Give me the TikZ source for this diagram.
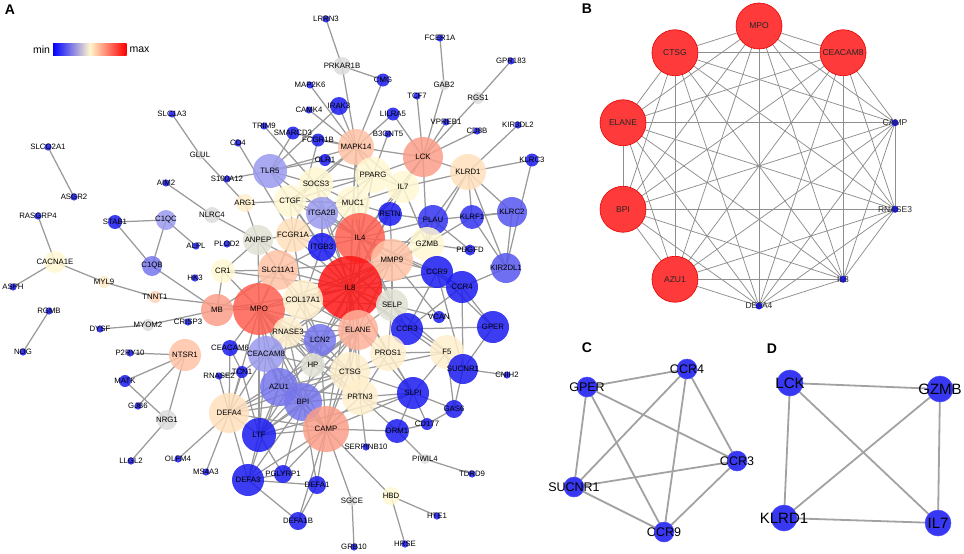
\documentclass[tikz,border=0pt]{standalone}
\usepackage{fontspec}
\setmainfont{Liberation Sans}
\usetikzlibrary{backgrounds}
\definecolor{bl}{HTML}{1A1AF0}
\definecolor{bltwo}{HTML}{3434F0}
\definecolor{lvA}{HTML}{5656EE}
\definecolor{lvB}{HTML}{7676EC}
\definecolor{lvC}{HTML}{9A9AEE}
\definecolor{grA}{HTML}{DCDCDC}
\definecolor{grB}{HTML}{E0E0D4}
\definecolor{yA}{HTML}{FFF8D2}
\definecolor{yB}{HTML}{FFEFCC}
\definecolor{oA}{HTML}{FFE0BC}
\definecolor{oM}{HTML}{FFEACA}
\definecolor{oT}{HTML}{FDD4B6}
\definecolor{oB}{HTML}{FFC2A6}
\definecolor{oE}{HTML}{FFB29A}
\definecolor{sA}{HTML}{FA9E88}
\definecolor{rA}{HTML}{FF5E50}
\definecolor{rB}{HTML}{FF1616}
\definecolor{edgeA}{HTML}{9A9A9A}
\definecolor{edgeB}{HTML}{8E8E8E}
\definecolor{edgeC}{HTML}{A2A2A2}
\definecolor{redB}{HTML}{FF3A3A}
\definecolor{blueC}{HTML}{3838F2}
\definecolor{cMid}{HTML}{FFF6CC}
\tikzset{
  gnode/.style={circle,inner sep=0pt,outer sep=0pt,fill opacity=0.85,draw=none},
  lblA/.style={font=\fontsize{7.8}{8}\selectfont,text=black,inner sep=0pt,text opacity=1,fill opacity=1},
  lblB/.style={font=\fontsize{8.5}{9}\selectfont,text=black!85,inner sep=0pt},
  lblC/.style={font=\fontsize{12.5}{13}\selectfont,text=black,inner sep=0pt},
  lblD/.style={font=\fontsize{15}{16}\selectfont,text=black,inner sep=0pt},
  lnA/.style={draw=edgeA,line width=1.25pt},
  lnB/.style={draw=edgeB,line width=0.75pt},
  lnC/.style={draw=edgeC,line width=1.8pt},
  bred/.style={circle,inner sep=0pt,minimum size=46pt,fill=redB,draw=red!90!black,line width=0.6pt},
  bsmall/.style={circle,inner sep=0pt,minimum size=7pt,fill=bl},
  cnode/.style={circle,inner sep=0pt,minimum size=20pt,fill=blueC,draw=blue!70,line width=0.5pt},
  dnode/.style={circle,inner sep=0pt,minimum size=26pt,fill=blueC,draw=blue!70,line width=0.5pt},
  plabel/.style={font=\bfseries\fontsize{14}{14}\selectfont,inner sep=0pt},
  leg/.style={font=\fontsize{10.5}{11}\selectfont,inner sep=0pt}
}
\newcommand\gn[5]{\node[gnode,minimum size={2*#4},fill=#5,label={[lblA]center:#1}] (#1) at (#2,#3) {};}
\newcommand\sn[3]{\gn{#1}{#2}{#3}{3.6}{bl}}
\begin{document}
\begin{tikzpicture}[x=1pt,y=-1pt]
\useasboundingbox (0,0) rectangle (964,554);
% panel labels
\node[plabel] (labA) at (10,10) {A};
\node[plabel] (labB) at (587,9) {B};
\node[plabel] (labC) at (587,348) {C};
\node[plabel] (labD) at (772,349) {D};
% legend
\shade[left color=blue,right color=red,middle color=cMid] (53,43) rectangle (126.5,55);
\node[leg] (legmin) at (41.5,50) {min};
\node[leg] (legmax) at (139.5,50) {max};
% ---------------- panel A nodes ----------------
\sn{LRRN3}{326}{19}
\gn{PRKAR1B}{342}{66}{9}{grA}
\sn{MAP2K6}{310}{85}
\gn{IRAK3}{339}{106}{9}{bl}
\sn{CAMK4}{309}{110}
\sn{TRIM9}{264}{126}
\gn{SMARCD3}{293}{133}{6.5}{bl}
\gn{FCGR1B}{318}{140}{6.5}{bl}
\gn{MAPK14}{356}{147}{18}{oB}
\gn{OLR1}{325}{160}{6}{bl}
\sn{CD4}{238}{143}
\gn{GLUL}{200}{155}{4.5}{grA}
\sn{SLC1A3}{172}{114}
\sn{SLCO2A1}{48}{147}
\sn{ASGR2}{74}{197}
\sn{RASGRP4}{38}{216}
\gn{CACNA1E}{55}{262}{11}{yA}
\sn{ASPH}{13}{287}
\gn{MYL9}{104}{282}{6}{oM}
\gn{TNNT1}{155}{297}{6}{oT}
\sn{RGMB}{49}{311}
\sn{NOG}{23}{352}
\sn{AIM2}{166}{183}
\gn{STAB1}{115}{222}{7}{bl}
\gn{C1QC}{166}{220}{10}{lvC}
\gn{C1QB}{152}{266}{10}{lvB}
\sn{ALPL}{196}{246}
\sn{PLOD2}{227}{244}
\sn{HK3}{195}{278}
\sn{DYSF}{100}{329}
\gn{MYOM2}{148}{325}{6}{grA}
\sn{CRISP3}{188}{322}
\sn{P2RY10}{130}{353}
\gn{NTSR1}{185}{355}{16}{oB}
\gn{MATK}{125}{381}{6}{bl}
\sn{GJB6}{138}{406}
\gn{NRG1}{167}{420}{10}{grA}
\sn{LLGL2}{131}{461}
\sn{OLFM4}{178}{459}
\sn{MS4A3}{206}{472}
\sn{FCER1A}{440}{38}
\sn{GPR183}{511}{61}
\gn{GAB2}{444}{85}{5.5}{grA}
\gn{CMG}{383}{80}{6.5}{bl}
\gn{RGS1}{478}{98}{6}{grA}
\sn{TCF7}{417}{96}
\gn{LILRA5}{393}{114}{6.5}{bl}
\sn{VPREB1}{446}{122}
\sn{KIR3DL2}{518}{125}
\sn{CD8B}{477}{131}
\sn{B3GNT5}{388}{134}
\gn{LCK}{423}{157}{20}{sA}
\gn{KLRD1}{468}{172}{18}{oA}
\gn{KLRC3}{532}{160}{6.5}{bl}
\gn{TLR5}{270}{171}{17}{lvC}
\sn{S100A12}{227}{179}
\gn{NLRC4}{212}{215}{8}{grA}
\gn{ARG1}{245}{203}{9}{yB}
\gn{CTGF}{290}{201}{16}{yA}
\gn{SOCS3}{316}{184}{17}{yA}
\gn{MUC1}{353}{203}{17}{yA}
\gn{PPARG}{373}{175}{18}{yA}
\gn{IL7}{403}{187}{16}{yA}
\gn{ITGA2B}{322}{213}{16}{lvC}
\gn{ANPEP}{258}{240}{15}{grB}
\gn{FCGR1A}{293}{235}{17}{oA}
\gn{ITGB3}{322}{247}{14}{bl}
\gn{IL4}{360}{238}{25}{rA}
\gn{RETN}{390}{214}{12}{bl}
\gn{PLAU}{433}{220}{15}{bltwo}
\gn{KLRF1}{472}{217}{12}{bltwo}
\gn{KLRC2}{512}{212}{15}{lvA}
\gn{GZMB}{427}{244}{17}{yA}
\gn{PDGFD}{470}{250}{5.5}{bl}
\gn{MMP9}{392}{260}{21}{oB}
\gn{KIR2DL1}{506}{268}{15}{lvA}
\gn{CCR9}{437}{272}{16}{bl}
\gn{CCR4}{462}{287}{16}{bl}
\gn{CR1}{223}{271}{12}{yA}
\gn{SLC11A1}{278}{270}{20}{oB}
\gn{IL8}{350}{288}{32}{rB}
\gn{MB}{217}{310}{16}{sA}
\gn{MPO}{259}{309}{26}{rA}
\gn{COL17A1}{303}{300}{20}{yB}
\gn{SELP}{392}{305}{16}{grB}
\gn{VCAN}{439}{317}{6}{bl}
\gn{GPER}{493}{327}{16}{bl}
\gn{CCR3}{407}{329}{16}{bl}
\gn{ELANE}{358}{330}{20}{oE}
\gn{RNASE3}{288}{332}{15}{yB}
\gn{LCN2}{320}{340}{16}{lvB}
\gn{F5}{447}{352}{17}{yB}
\gn{PROS1}{388}{353}{18}{yB}
\gn{SUCNR1}{463}{369}{15}{bl}
\sn{CNIH2}{507}{375}
\gn{CEACAM6}{230}{348}{8}{bl}
\gn{CEACAM8}{266}{354}{18}{lvC}
\gn{HP}{313}{365}{12}{grB}
\gn{CTSG}{350}{372}{20}{yB}
\gn{TCN1}{242}{372}{6}{bl}
\sn{RNASE2}{219}{376}
\gn{AZU1}{279}{387}{19}{lvB}
\gn{BPI}{303}{402}{19}{lvB}
\gn{PRTN3}{360}{397}{18}{yB}
\gn{SLPI}{413}{393}{16}{bl}
\gn{GAS6}{454}{409}{9}{bl}
\gn{CD177}{427}{424}{6}{bl}
\gn{ORM1}{397}{431}{12}{bl}
\gn{DEFA4}{229}{413}{20}{oA}
\gn{LTF}{259}{435}{17}{bl}
\gn{CAMP}{326}{429}{23}{sA}
\sn{SERPINB10}{366}{447}
\gn{PIWIL4}{425}{459}{5}{grA}
\sn{TDRD9}{472}{474}
\gn{DEFA3}{248}{480}{16}{bl}
\gn{PGLYRP1}{283}{474}{9}{bl}
\gn{DEFA1}{317}{485}{9}{bl}
\gn{DEFA1B}{298}{521}{9}{bl}
\gn{SGCE}{352}{501}{5}{grA}
\sn{GRB10}{354}{547}
\gn{HBD}{391}{496}{9}{yA}
\sn{HTE1}{437}{516}
\sn{HRSE}{405}{544}
% ---------------- panel B nodes ----------------
\foreach \n/\a in {MPO/90,CEACAM8/54,AZU1/-126,BPI/-162,ELANE/162,CTSG/126}
  \node[bred,label={[lblB]center:\n}] (B\n) at ({759+143*cos(\a)},{166-140*sin(\a)}) {};
\foreach \n/\a in {CAMP/18,RNASE3/-18,IL8/-54,DEFA4/-90}
  \node[bsmall,label={[lblB]center:\n}] (B\n) at ({759+143*cos(\a)},{166-140*sin(\a)}) {};
% ---------------- panel C nodes ----------------
\node[cnode,label={[lblC]center:GPER}] (CGPER) at (587,387) {};
\node[cnode,label={[lblC]center:CCR4}] (CCCR4) at (687,369) {};
\node[cnode,label={[lblC]center:CCR3}] (CCCR3) at (737,461) {};
\node[cnode,label={[lblC]center:SUCNR1}] (CSUCNR1) at (574,487) {};
\node[cnode,label={[lblC]center:CCR9}] (CCCR9) at (664,532) {};
% ---------------- panel D nodes ----------------
\node[dnode,label={[lblD]center:LCK}] (DLCK) at (790,383) {};
\node[dnode,label={[lblD]center:GZMB}] (DGZMB) at (940,389) {};
\node[dnode,label={[lblD]center:KLRD1}] (DKLRD1) at (784,518) {};
\node[dnode,label={[lblD]center:IL7}] (DIL7) at (938,523) {};
% ---------------- edges ----------------
\begin{scope}[on background layer]
\foreach \a/\bs in {
 LRRN3/{PRKAR1B}, PRKAR1B/{CMG,MAPK14}, CMG/{MAPK14}, MAP2K6/{MAPK14}, IRAK3/{MAPK14,TLR5},
 CAMK4/{MAPK14}, TRIM9/{SOCS3}, SMARCD3/{MAPK14,TLR5}, FCGR1B/{MAPK14,FCGR1A}, OLR1/{PPARG,TLR5},
 CD4/{FCGR1A}, SLC1A3/{GLUL}, GLUL/{ARG1}, S100A12/{TLR5}, AIM2/{NLRC4}, NLRC4/{ANPEP},
 FCER1A/{GAB2}, GAB2/{LCK}, GPR183/{RGS1}, RGS1/{LCK}, TCF7/{LCK}, VPREB1/{LCK}, CD8B/{LCK},
 KIR3DL2/{KLRD1}, KLRC3/{KLRD1,KIR2DL1}, LILRA5/{LCK,MAPK14}, B3GNT5/{PPARG},
 LCK/{KLRD1,IL7,MAPK14,PPARG,IL4,GZMB},
 KLRD1/{IL7,KLRF1,KLRC2,GZMB,PLAU,KIR2DL1},
 ASGR2/{SLCO2A1}, RASGRP4/{CACNA1E}, ASPH/{CACNA1E}, CACNA1E/{MYL9}, MYL9/{TNNT1}, TNNT1/{MPO},
 RGMB/{NOG}, DYSF/{MYOM2}, MYOM2/{MB}, STAB1/{C1QC,C1QB}, C1QC/{C1QB,ALPL}, C1QB/{MB},
 P2RY10/{NTSR1}, NTSR1/{MATK,NRG1,GJB6}, MATK/{NRG1}, NRG1/{LLGL2}, OLFM4/{DEFA4}, MS4A3/{DEFA4},
 HBD/{HTE1,HRSE,CAMP}, SGCE/{GRB10,CAMP}, SERPINB10/{PRTN3}, ORM1/{PIWIL4,CD177}, PIWIL4/{TDRD9},
 SUCNR1/{CNIH2,CCR3,CCR4,CCR9,GPER},
 IL8/{IL4,MPO,ELANE,MMP9,SELP,COL17A1,SLC11A1,FCGR1A,ITGB3,ITGA2B,SOCS3,MUC1,PPARG,IL7,CTGF,CCR3,CCR4,CCR9,GZMB,PLAU,RETN,CAMP,LCN2,CTSG,PRTN3,HP,ANPEP,CR1,MB,F5,PROS1,CEACAM8,TLR5,MAPK14,RNASE3,SLPI},
 IL4/{SOCS3,MUC1,PPARG,IL7,CTGF,FCGR1A,ITGB3,ITGA2B,MMP9,RETN,GZMB,CCR4,CCR3,CCR9,SELP,MAPK14,TLR5,ELANE,PLAU},
 MPO/{ELANE,CTSG,AZU1,BPI,CEACAM8,CAMP,RNASE3,LTF,LCN2,PRTN3,HP,SLC11A1,COL17A1,MB,CR1,ANPEP,DEFA4,CEACAM6,MMP9,FCGR1A},
 ELANE/{CTSG,AZU1,BPI,CEACAM8,CAMP,PRTN3,LTF,LCN2,SLPI,SELP,MMP9,RNASE3,DEFA4,COL17A1,HP,PROS1},
 CTSG/{AZU1,BPI,PRTN3,CAMP,CEACAM8,RNASE3,SLPI,LTF,LCN2,F5,PROS1,DEFA4,HP},
 AZU1/{BPI,PRTN3,CAMP,CEACAM8,RNASE3,DEFA4,LTF,LCN2,DEFA3},
 BPI/{CAMP,CEACAM8,RNASE3,DEFA4,LTF,LCN2,PRTN3,DEFA3,PGLYRP1,DEFA1},
 CAMP/{LTF,DEFA4,DEFA3,DEFA1,DEFA1B,PGLYRP1,PRTN3,CEACAM8,SLPI,LCN2,ORM1},
 CEACAM8/{CEACAM6,LTF,LCN2,DEFA4,RNASE3,TCN1},
 LTF/{DEFA4,DEFA3,LCN2,PGLYRP1,TCN1,SLPI},
 DEFA4/{DEFA3,RNASE2,TCN1,CEACAM6}, DEFA3/{DEFA1,DEFA1B,PGLYRP1}, DEFA1/{DEFA1B},
 PRTN3/{SLPI,ORM1,PROS1,HP,CD177}, SLPI/{ORM1,CD177,PROS1,F5,GAS6},
 GAS6/{SUCNR1,F5,CD177}, F5/{PROS1,SELP},
 CCR3/{CCR9,CCR4,GPER,SELP}, CCR4/{CCR9,GPER,KIR2DL1}, CCR9/{GPER,MMP9},
 VCAN/{SELP,MMP9}, SELP/{MMP9,PROS1,COL17A1,ITGB3},
 MMP9/{GZMB,PLAU,RETN,SLC11A1,COL17A1,LCN2},
 GZMB/{PLAU,IL7,PDGFD,KLRF1}, PLAU/{KLRC2,RETN,PDGFD}, KLRF1/{KLRC2,KIR2DL1}, KLRC2/{KIR2DL1},
 MAPK14/{PPARG,SOCS3,MUC1,IL7,TLR5,CTGF}, PPARG/{SOCS3,MUC1,IL7,CTGF,ITGA2B},
 SOCS3/{CTGF,MUC1,TLR5,ITGA2B}, MUC1/{IL7,CTGF,ITGA2B,ITGB3,RETN},
 CTGF/{ARG1,ITGA2B,FCGR1A,ITGB3}, ITGA2B/{ITGB3,FCGR1A}, ITGB3/{FCGR1A,SLC11A1,COL17A1},
 FCGR1A/{SLC11A1,ANPEP,COL17A1}, SLC11A1/{ANPEP,CR1,MB,COL17A1,LCN2},
 ANPEP/{ARG1,CR1}, CR1/{MB}, COL17A1/{RNASE3,LCN2,HP}, RNASE3/{LCN2,HP}, LCN2/{HP},
 TCN1/{RNASE2,CEACAM6}}
 {\foreach \b in \bs {\draw[lnA] (\a.center) -- (\b.center);}}
% panel B: complete graph
\foreach \a [count=\i] in {MPO,CEACAM8,CAMP,RNASE3,IL8,DEFA4,AZU1,BPI,ELANE,CTSG}
  \foreach \b [count=\j] in {MPO,CEACAM8,CAMP,RNASE3,IL8,DEFA4,AZU1,BPI,ELANE,CTSG}
    {\ifnum\j>\i \draw[lnB] (B\a.center) -- (B\b.center);\fi}
% panel C
\foreach \a/\b in {CGPER/CCCR4,CGPER/CCCR3,CGPER/CSUCNR1,CGPER/CCCR9,CCCR4/CSUCNR1,CCCR4/CCCR9,CCCR4/CCCR3,CCCR3/CSUCNR1,CCCR3/CCCR9,CSUCNR1/CCCR9}
  \draw[lnC] (\a.center) -- (\b.center);
% panel D
\foreach \a/\b in {DLCK/DGZMB,DLCK/DKLRD1,DLCK/DIL7,DGZMB/DKLRD1,DGZMB/DIL7,DKLRD1/DIL7}
  \draw[lnC] (\a.center) -- (\b.center);
\end{scope}
\end{tikzpicture}
\end{document}
